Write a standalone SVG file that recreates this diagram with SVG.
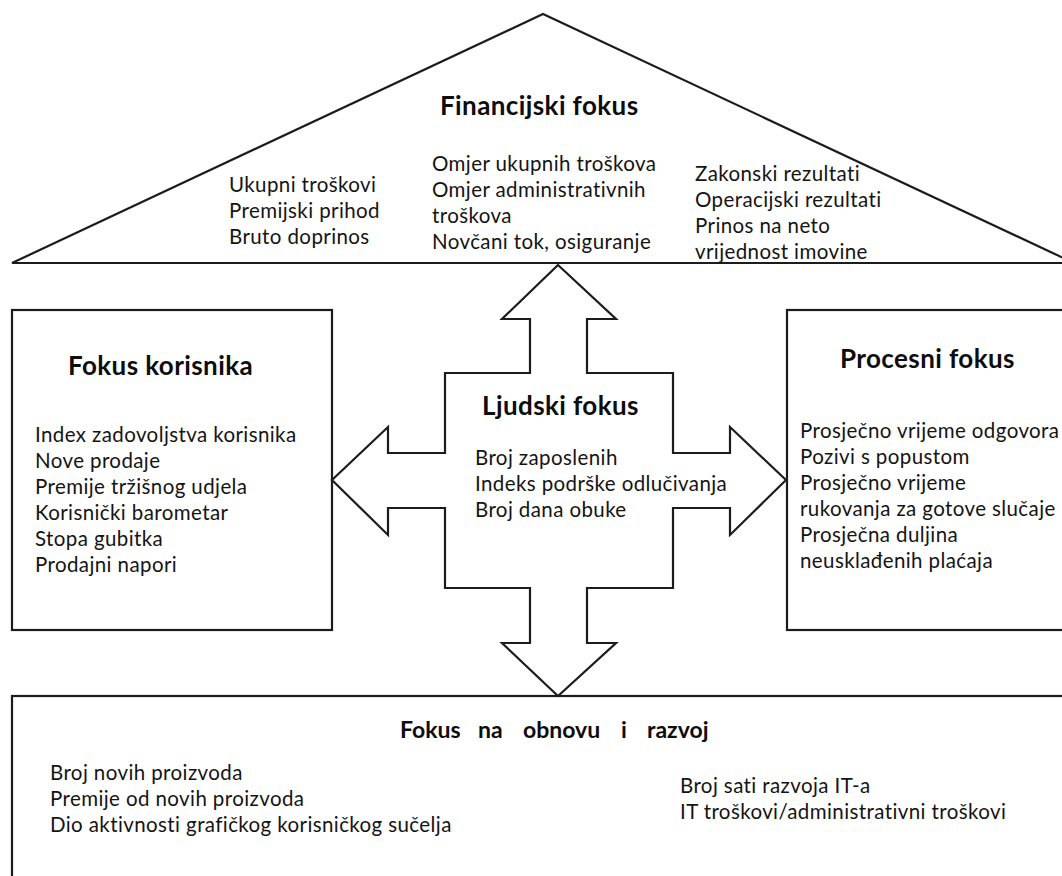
<svg xmlns="http://www.w3.org/2000/svg" width="1062" height="876" viewBox="0 0 1062 876">
<style>
.shape{fill:#fff;stroke:#1c1c1c;stroke-width:2.2;stroke-linejoin:miter}
.t{font-family:Lato,"Open Sans","Liberation Sans",sans-serif;font-size:20.5px;letter-spacing:0.4px;fill:#141414}
.h{font-family:Lato,"Open Sans","Liberation Sans",sans-serif;font-size:26px;letter-spacing:0.4px;font-weight:bold;fill:#0d0d0d}
.h2{font-family:Lato,"Open Sans","Liberation Sans",sans-serif;font-size:23px;font-weight:bold;fill:#0d0d0d}
</style>
<rect width="1062" height="876" fill="#fff"/>
<g id="financijski">
<polygon class="shape" points="12,263 543,14 1074,263"/>
<text class="h" x="440" y="115">Financijski fokus</text>
<text class="t"><tspan x="229" y="192">Ukupni troškovi</tspan><tspan x="229" y="218">Premijski prihod</tspan><tspan x="229" y="244">Bruto doprinos</tspan></text>
<text class="t"><tspan x="432" y="171">Omjer ukupnih troškova</tspan><tspan x="432" y="197">Omjer administrativnih</tspan><tspan x="432" y="223">troškova</tspan><tspan x="432" y="249">Novčani tok, osiguranje</tspan></text>
<text class="t"><tspan x="695" y="181">Zakonski rezultati</tspan><tspan x="695" y="207">Operacijski rezultati</tspan><tspan x="695" y="233">Prinos na neto</tspan><tspan x="695" y="259">vrijednost imovine</tspan></text>
</g>
<g id="korisnik">
<rect class="shape" x="12" y="310" width="320" height="320"/>
<text class="h" x="68" y="375">Fokus korisnika</text>
<text class="t"><tspan x="35" y="442">Index zadovoljstva korisnika</tspan><tspan x="35" y="468">Nove prodaje</tspan><tspan x="35" y="494">Premije tržišnog udjela</tspan><tspan x="35" y="520">Korisnički barometar</tspan><tspan x="35" y="546">Stopa gubitka</tspan><tspan x="35" y="572">Prodajni napori</tspan></text>
</g>
<g id="procesni">
<rect class="shape" x="787" y="310" width="300" height="320"/>
<text class="h" x="840" y="368">Procesni fokus</text>
<text class="t"><tspan x="800" y="438">Prosječno vrijeme odgovora</tspan><tspan x="800" y="464">Pozivi s popustom</tspan><tspan x="800" y="490">Prosječno vrijeme</tspan><tspan x="800" y="516">rukovanja za gotove slučaje</tspan><tspan x="800" y="542">Prosječna duljina</tspan><tspan x="800" y="568">neusklađenih plaćaja</tspan></text>
</g>
<g id="obnova">
<rect class="shape" x="12" y="696" width="1100" height="300"/>
<text class="h2" y="738"><tspan x="400">Fokus</tspan><tspan x="478">na</tspan><tspan x="523">obnovu</tspan><tspan x="621">i</tspan><tspan x="647">razvoj</tspan></text>
<text class="t"><tspan x="50" y="780">Broj novih proizvoda</tspan><tspan x="50" y="806">Premije od novih proizvoda</tspan><tspan x="50" y="832">Dio aktivnosti grafičkog korisničkog sučelja</tspan></text>
<text class="t"><tspan x="680" y="793">Broj sati razvoja IT-a</tspan><tspan x="680" y="819">IT troškovi/administrativni troškovi</tspan></text>
</g>
<g id="connectors">
<polygon class="shape" points="558,265 616,319 587,319 587,373 673,373 673,453 730,453 730,427 786,480 730,535 730,508 673,508 673,588 587,588 587,643 616,643 558,696 502,643 530,643 530,588 445,588 445,508 388,508 388,535 332,480 388,427 388,453 445,453 445,373 530,373 530,319 502,319"/>
</g>
<g id="ljudski">
<text class="h" x="482" y="415">Ljudski fokus</text>
<text class="t"><tspan x="475" y="465">Broj zaposlenih</tspan><tspan x="475" y="491">Indeks podrške odlučivanja</tspan><tspan x="475" y="517">Broj dana obuke</tspan></text>
</g>
</svg>
